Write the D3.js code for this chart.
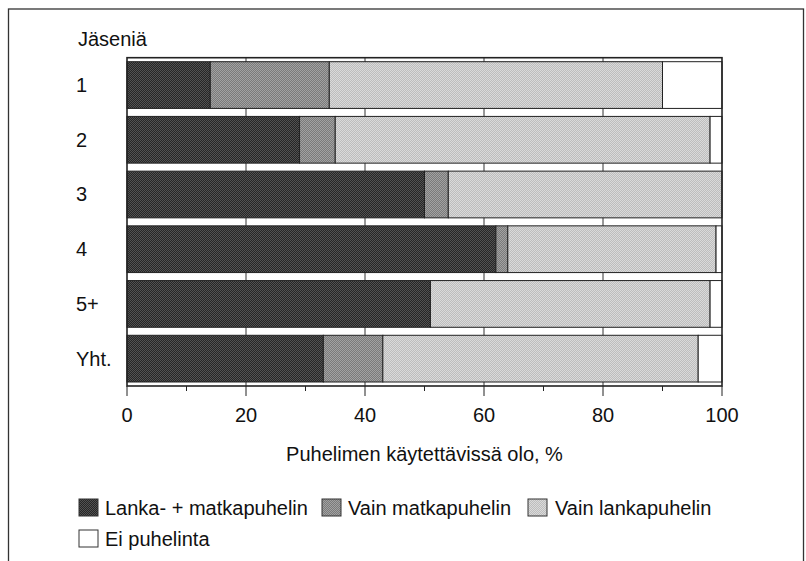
<!DOCTYPE html>
<html><head><meta charset="utf-8">
<script src="https://cdn.jsdelivr.net/npm/d3@7"></script>
<style>
html,body{margin:0;padding:0;background:#fff;}
svg text{font-family:"Liberation Sans",Arial,Helvetica,sans-serif;fill:#111;}
</style></head>
<body>
<svg id="chart" width="806" height="561"></svg>
<script>
const categories = ["1","2","3","4","5+","Yht."];
const seriesNames = ["Lanka- + matkapuhelin","Vain matkapuhelin","Vain lankapuhelin","Ei puhelinta"];
const landAndMobile = [14,29,50,62,51,33];
const mobileOnly    = [20, 6, 4, 2, 0,10];
const landOnly      = [56,63,46,35,47,53];
const noPhone       = [10, 2, 0, 1, 2, 4];
const xTicks = [0,20,40,60,80,100];
const yTitle = "Jäseniä";
const xTitle = "Puhelimen käytettävissä olo, %";

(function(){
const svg = d3.select("#chart");
const defs = svg.append("defs");
const pats = [
  {id:"p0", a:"#262626", b:"#525252"},
  {id:"p1", a:"#7a7a7a", b:"#a2a2a2"},
  {id:"p2", a:"#bdbdbd", b:"#dadada"},
  {id:"p3", a:"#ffffff", b:"#ffffff"}
];
pats.forEach(p=>{
  const pt = defs.append("pattern").attr("id",p.id).attr("patternUnits","userSpaceOnUse")
    .attr("width",2).attr("height",2);
  pt.append("rect").attr("width",2).attr("height",2).attr("fill",p.a);
  pt.append("rect").attr("width",1).attr("height",1).attr("fill",p.b);
  pt.append("rect").attr("x",1).attr("y",1).attr("width",1).attr("height",1).attr("fill",p.b);
});
const fills = pats.map(p=>`url(#${p.id})`);

// outer border
svg.append("rect").attr("x",8.5).attr("y",9).attr("width",795).attr("height",570)
  .attr("fill","none").attr("stroke","#333").attr("stroke-width",1.3);

const pLeft=127, pRight=722, pTop=57.7, pBottom=386;
const x = d3.scaleLinear().domain([0,100]).range([pLeft,pRight]);
const y = d3.scaleBand().domain(categories).range([pTop,pBottom]).paddingInner(0.146).paddingOuter(0.073);

// gridlines
svg.append("g").selectAll("line").data(xTicks.slice(1,-1)).join("line")
  .attr("x1",d=>x(d)).attr("x2",d=>x(d)).attr("y1",pTop).attr("y2",pBottom)
  .attr("stroke","#333").attr("stroke-width",1);

// stacked data
const rows = categories.map((c,i)=>({cat:c, v0:landAndMobile[i], v1:mobileOnly[i], v2:landOnly[i], v3:noPhone[i]}));
const stack = d3.stack().keys(["v0","v1","v2","v3"]);
const series = stack(rows);
series.forEach((s,k)=>{
  svg.append("g").selectAll("rect").data(s.filter(d=>d[1]-d[0]>0)).join("rect")
    .attr("x",d=>x(d[0])).attr("width",d=>x(d[1])-x(d[0]))
    .attr("y",d=>y(d.data.cat)).attr("height",y.bandwidth())
    .attr("fill",fills[k]).attr("stroke","#222").attr("stroke-width",1);
});

// frame
svg.append("rect").attr("x",pLeft).attr("y",pTop).attr("width",pRight-pLeft).attr("height",pBottom-pTop)
  .attr("fill","none").attr("stroke","#222").attr("stroke-width",1.6);

// x axis ticks
const allTicks = d3.range(0,101,10);
svg.append("g").selectAll("line").data(allTicks).join("line")
  .attr("x1",d=>x(d)).attr("x2",d=>x(d)).attr("y1",pBottom)
  .attr("y2",d=>d%20===0?pBottom+10:pBottom+5)
  .attr("stroke","#222").attr("stroke-width",1);
svg.append("g").selectAll("text").data(xTicks).join("text")
  .attr("x",d=>x(d)).attr("y",421.5).attr("text-anchor","middle")
  .attr("font-size",20).text(d=>d);

svg.append("text").attr("x",(pLeft+pRight)/2).attr("y",461).attr("text-anchor","middle")
  .attr("font-size",20).text(xTitle);

// y labels
svg.append("text").attr("x",78).attr("y",46).attr("font-size",20).text(yTitle);
svg.append("g").selectAll("text").data(categories).join("text")
  .attr("x",76).attr("y",d=>y(d)+y.bandwidth()/2+7).attr("font-size",20).text(d=>d);

// legend
const legendPos = [
  {sx:79, tx:105, y:499},
  {sx:322, tx:348, y:499},
  {sx:528, tx:555, y:499},
  {sx:79, tx:105, y:530}
];
seriesNames.forEach((n,i)=>{
  const p = legendPos[i];
  svg.append("rect").attr("x",p.sx).attr("y",p.y).attr("width",19).attr("height",17)
    .attr("fill",fills[i]).attr("stroke","#333").attr("stroke-width",1);
  svg.append("text").attr("x",p.tx).attr("y",p.y+15.5).attr("font-size",20).text(n);
});
})();
</script>
</body></html>
